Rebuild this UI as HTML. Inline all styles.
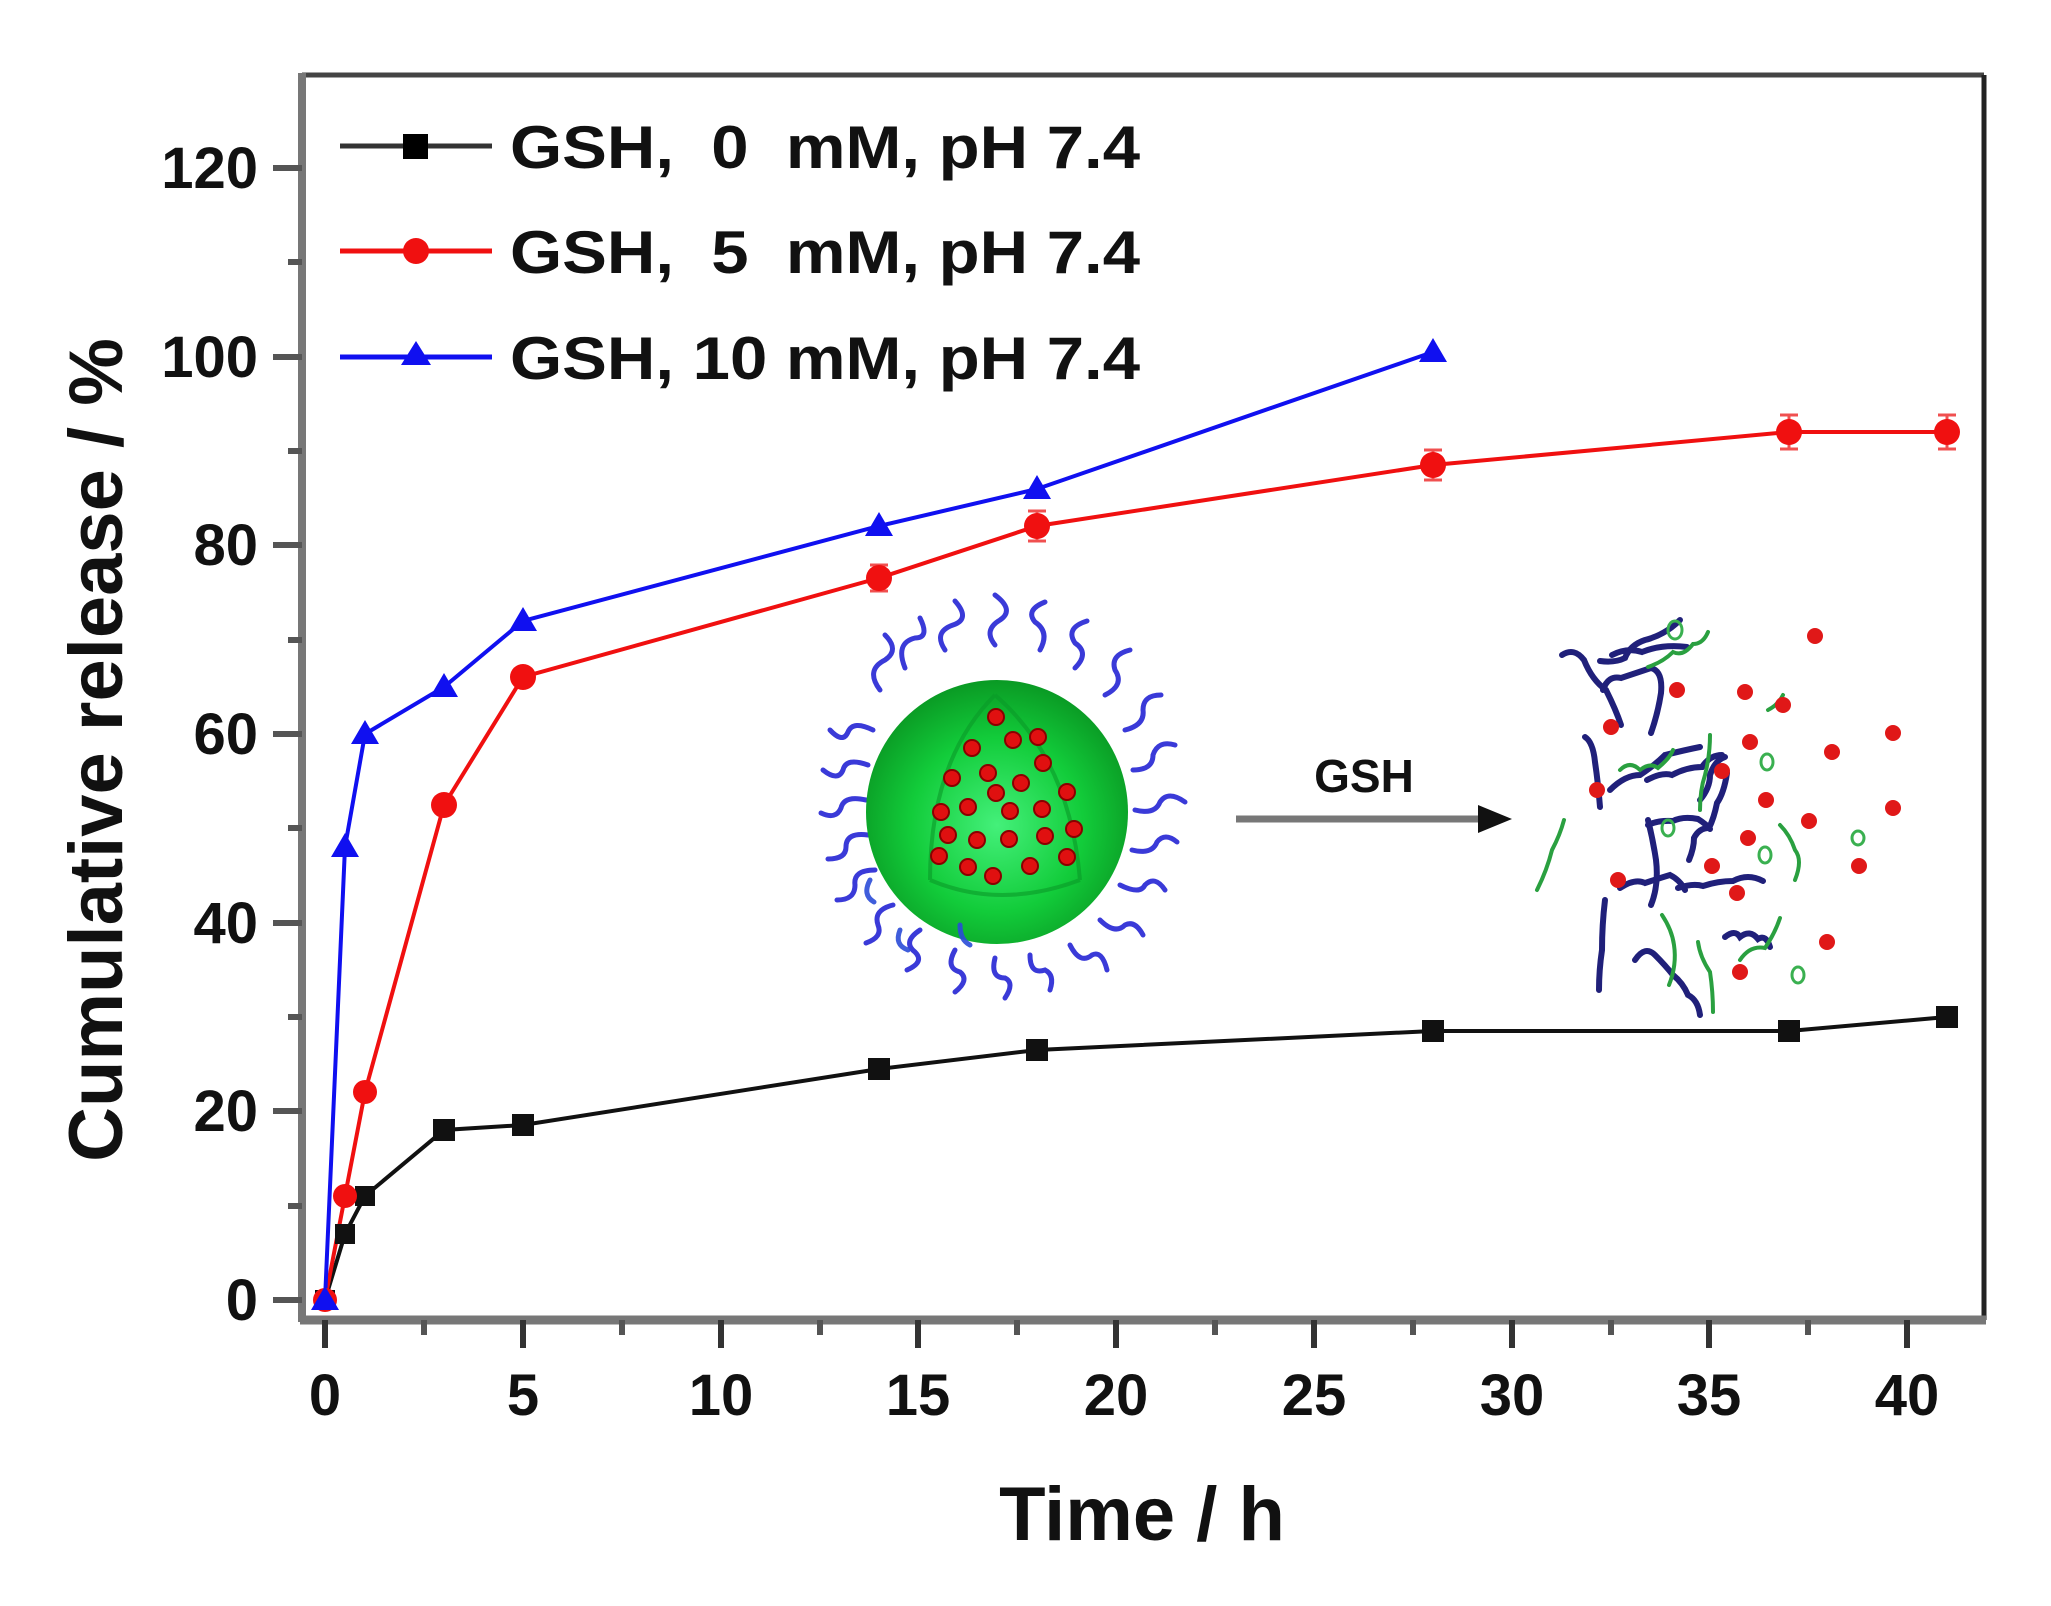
<!DOCTYPE html>
<html><head><meta charset="utf-8"><style>
html,body{margin:0;padding:0;background:#fff;}
svg{display:block;}
text{font-family:"Liberation Sans",Arial,sans-serif;font-weight:bold;fill:#111;}
</style></head><body>
<svg width="2051" height="1606" viewBox="0 0 2051 1606" xmlns="http://www.w3.org/2000/svg">
<rect width="2051" height="1606" fill="#fff"/>
<!-- axes frame -->
<line x1="302" y1="75" x2="1984" y2="75" stroke="#444" stroke-width="5"/>
<line x1="1984" y1="75" x2="1984" y2="1320" stroke="#222" stroke-width="5"/>
<line x1="302" y1="73" x2="302" y2="1322" stroke="#777" stroke-width="8"/>
<line x1="300" y1="1320" x2="1986" y2="1320" stroke="#777" stroke-width="9"/>
<!-- y ticks -->
<g stroke="#555" stroke-width="6">
<line x1="273" y1="1300" x2="302" y2="1300"/><line x1="273" y1="1111" x2="302" y2="1111"/>
<line x1="273" y1="923" x2="302" y2="923"/><line x1="273" y1="734" x2="302" y2="734"/>
<line x1="273" y1="545" x2="302" y2="545"/><line x1="273" y1="357" x2="302" y2="357"/>
<line x1="273" y1="168" x2="302" y2="168"/>
<line x1="288" y1="1206" x2="302" y2="1206"/><line x1="288" y1="1017" x2="302" y2="1017"/>
<line x1="288" y1="828" x2="302" y2="828"/><line x1="288" y1="640" x2="302" y2="640"/>
<line x1="288" y1="451" x2="302" y2="451"/><line x1="288" y1="262" x2="302" y2="262"/>
</g>
<g font-size="58" text-anchor="end">
<text x="258" y="1320">0</text><text x="258" y="1131">20</text><text x="258" y="943">40</text>
<text x="258" y="754">60</text><text x="258" y="565">80</text><text x="258" y="377">100</text><text x="258" y="188">120</text>
</g>
<!-- x ticks -->
<g stroke="#333" stroke-width="6">
<line x1="325" y1="1320" x2="325" y2="1348"/><line x1="523" y1="1320" x2="523" y2="1348"/>
<line x1="721" y1="1320" x2="721" y2="1348"/><line x1="918" y1="1320" x2="918" y2="1348"/>
<line x1="1116" y1="1320" x2="1116" y2="1348"/><line x1="1314" y1="1320" x2="1314" y2="1348"/>
<line x1="1512" y1="1320" x2="1512" y2="1348"/><line x1="1709" y1="1320" x2="1709" y2="1348"/>
<line x1="1907" y1="1320" x2="1907" y2="1348"/>
</g>
<g stroke="#555" stroke-width="6">
<line x1="424" y1="1320" x2="424" y2="1335"/><line x1="622" y1="1320" x2="622" y2="1335"/>
<line x1="820" y1="1320" x2="820" y2="1335"/><line x1="1017" y1="1320" x2="1017" y2="1335"/>
<line x1="1215" y1="1320" x2="1215" y2="1335"/><line x1="1413" y1="1320" x2="1413" y2="1335"/>
<line x1="1611" y1="1320" x2="1611" y2="1335"/><line x1="1808" y1="1320" x2="1808" y2="1335"/>
</g>
<g font-size="58" text-anchor="middle">
<text x="325" y="1415">0</text><text x="523" y="1415">5</text><text x="721" y="1415">10</text>
<text x="918" y="1415">15</text><text x="1116" y="1415">20</text><text x="1314" y="1415">25</text>
<text x="1512" y="1415">30</text><text x="1709" y="1415">35</text><text x="1907" y="1415">40</text>
</g>
<text x="1142" y="1540" font-size="76" text-anchor="middle">Time / h</text>
<text transform="translate(122,750) rotate(-90)" font-size="76" text-anchor="middle">Cumulative release / %</text>

<!-- illustration: sphere -->
<defs>
<radialGradient id="g1" cx="0.5" cy="0.55" r="0.55">
<stop offset="0" stop-color="#44f07a"/><stop offset="0.6" stop-color="#12cc3a"/><stop offset="1" stop-color="#0a9a24"/>
</radialGradient>
</defs>
<g fill="none" stroke="#3a3ad8" stroke-width="5" stroke-linecap="round">
<path d="M880 690 q-15 -20 5 -30 q15 -10 0 -25"/><path d="M905 668 q-10 -25 10 -30 q15 0 5 -20"/>
<path d="M945 650 q-12 -18 8 -25 q18 -6 2 -24"/><path d="M995 645 q-12 -15 5 -25 q15 -10 -5 -25"/>
<path d="M1040 650 q10 -18 -5 -28 q-10 -12 10 -20"/><path d="M1075 668 q15 -15 0 -25 q-10 -15 12 -22"/>
<path d="M1105 695 q20 -10 10 -25 q-5 -15 15 -20"/><path d="M1125 730 q20 -5 18 -20 q0 -15 18 -15"/>
<path d="M1133 770 q20 0 20 -15 q5 -15 22 -10"/><path d="M1135 810 q20 5 25 -8 q8 -12 25 0"/>
<path d="M1132 850 q20 5 25 -8 q8 -10 20 0"/><path d="M1120 885 q20 10 25 0 q10 -10 20 5"/>
<path d="M1100 920 q15 15 25 5 q10 -5 18 10"/><path d="M1070 945 q10 20 22 10 q10 -5 15 15"/>
<path d="M1030 955 q0 20 15 15 q10 5 5 20"/><path d="M995 958 q-5 20 10 20 q10 5 0 20"/>
<path d="M955 950 q-10 18 5 22 q10 8 -5 20"/><path d="M920 930 q-18 12 -5 22 q10 10 -8 18"/>
<path d="M893 905 q-20 5 -15 20 q5 12 -12 18"/><path d="M875 870 q-22 0 -20 15 q0 15 -18 15"/>
<path d="M868 835 q-22 -3 -22 12 q0 12 -18 12"/><path d="M866 800 q-22 -5 -25 8 q-5 12 -20 5"/>
<path d="M868 765 q-22 -8 -25 5 q-5 12 -20 0"/><path d="M873 730 q-20 -10 -25 2 q-5 12 -18 -2"/>
</g>
<ellipse cx="997" cy="812" rx="131" ry="132" fill="url(#g1)"/>
<path d="M995 695 Q930 760 930 880 M995 695 Q1070 760 1080 880 M930 880 Q1000 910 1080 880" fill="none" stroke="#0a9a28" stroke-width="4" opacity="0.6"/>
<g fill="#e01010" stroke="#8a0000" stroke-width="2">
<circle cx="996" cy="717" r="8"/><circle cx="1013" cy="740" r="8"/><circle cx="1038" cy="737" r="8"/>
<circle cx="972" cy="748" r="8"/><circle cx="1043" cy="763" r="8"/><circle cx="952" cy="778" r="8"/>
<circle cx="988" cy="773" r="8"/><circle cx="1021" cy="783" r="8"/><circle cx="996" cy="793" r="8"/>
<circle cx="1067" cy="792" r="8"/><circle cx="941" cy="812" r="8"/><circle cx="968" cy="807" r="8"/>
<circle cx="1010" cy="811" r="8"/><circle cx="1042" cy="809" r="8"/><circle cx="1074" cy="829" r="8"/>
<circle cx="948" cy="835" r="8"/><circle cx="977" cy="840" r="8"/><circle cx="1009" cy="839" r="8"/>
<circle cx="1045" cy="836" r="8"/><circle cx="939" cy="856" r="8"/><circle cx="968" cy="867" r="8"/>
<circle cx="993" cy="876" r="8"/><circle cx="1030" cy="866" r="8"/><circle cx="1067" cy="857" r="8"/>
</g>
<g fill="none" stroke="#2b4cd8" stroke-width="5" stroke-linecap="round" opacity="0.9">
<path d="M870 880 q-8 15 4 22"/><path d="M900 930 q-6 15 8 20"/><path d="M960 925 q0 15 10 20"/>
</g>
<!-- arrow -->
<line x1="1236" y1="819" x2="1480" y2="819" stroke="#777" stroke-width="7"/>
<polygon points="1478,805 1512,819 1478,833" fill="#111"/>
<text x="1364" y="792" font-size="46" text-anchor="middle">GSH</text>
<!-- debris -->
<g fill="none" stroke="#20207a" stroke-width="6" stroke-linecap="round">
<path d="M1680 620 q-15 15 -35 20 q-15 5 -20 18 q-10 5 -25 3"/>
<path d="M1612 655 q15 -8 30 -3 q20 -8 45 -5"/>
<path d="M1562 655 q12 -8 22 5 q8 20 22 30 q10 20 15 35"/>
<path d="M1603 690 q5 -15 18 -12 q15 -5 30 -10 q12 3 10 25 q-3 20 -10 40"/>
<path d="M1585 737 q8 5 10 25 q3 20 5 45"/>
<path d="M1610 790 q15 -15 30 -15 q15 -10 25 -20 q20 -5 35 -8"/>
<path d="M1647 780 q15 -8 25 -5 q15 -8 30 -8 q8 -12 20 -12"/>
<path d="M1700 800 q10 -12 10 -25 q5 -15 15 -18"/>
<path d="M1727 773 q-3 20 -10 30 q-3 15 -8 25 q-10 0 -15 10 q0 10 -5 22"/>
<path d="M1648 825 q10 -5 25 -4 q10 -5 25 -2 q8 5 12 10"/>
<path d="M1620 888 q15 -10 25 -5 q15 -5 25 -8 q10 5 15 15"/>
<path d="M1678 888 q15 -5 25 -2 q15 -5 30 -5 q15 -8 30 0"/>
<path d="M1648 820 q5 20 8 40 q3 25 -5 45"/>
<path d="M1605 900 q-3 25 -3 50 q-3 20 -3 40"/>
<path d="M1635 960 q10 -15 20 -5 q10 10 18 20 q10 8 15 20 q10 5 12 20"/>
<path d="M1725 937 q10 -8 15 0 q10 -8 18 2 q8 -5 12 8"/>
</g>
<g fill="none" stroke="#2aa040" stroke-width="4" stroke-linecap="round">
<path d="M1648 667 q15 -5 25 -15 q10 5 20 -8 q10 0 15 -12"/>
<path d="M1620 770 q10 -10 20 0 q10 -8 18 -2 q12 -10 15 -18"/>
<path d="M1700 810 q0 -20 5 -35 q5 -20 5 -40"/>
<path d="M1537 890 q10 -20 15 -40 q8 -15 12 -30"/>
<path d="M1662 915 q10 15 12 30 q3 20 -5 40"/>
<path d="M1713 1012 q0 -20 -3 -40 q-10 -15 -12 -30"/>
<path d="M1740 960 q10 -15 25 -12 q10 -15 15 -30"/>
<path d="M1780 825 q10 10 15 25 q8 10 0 30"/>
<path d="M1768 710 q10 -5 15 -15"/>
</g>
<g fill="none" stroke="#3ab050" stroke-width="3">
<ellipse cx="1675" cy="630" rx="7" ry="9"/><ellipse cx="1767" cy="762" rx="6" ry="8"/>
<ellipse cx="1668" cy="828" rx="6" ry="8"/><ellipse cx="1765" cy="855" rx="6" ry="8"/>
<ellipse cx="1858" cy="838" rx="6" ry="7"/>
<ellipse cx="1798" cy="975" rx="6" ry="8"/>
</g>
<g fill="#e01818">
<circle cx="1815" cy="636" r="8"/><circle cx="1677" cy="690" r="8"/><circle cx="1745" cy="692" r="8"/>
<circle cx="1783" cy="705" r="8"/><circle cx="1611" cy="727" r="8"/><circle cx="1832" cy="752" r="8"/>
<circle cx="1750" cy="742" r="8"/><circle cx="1722" cy="771" r="8"/><circle cx="1893" cy="733" r="8"/>
<circle cx="1597" cy="790" r="8"/><circle cx="1766" cy="800" r="8"/><circle cx="1893" cy="808" r="8"/>
<circle cx="1809" cy="821" r="8"/><circle cx="1748" cy="838" r="8"/><circle cx="1712" cy="866" r="8"/>
<circle cx="1859" cy="866" r="8"/><circle cx="1618" cy="880" r="8"/><circle cx="1737" cy="893" r="8"/>
<circle cx="1827" cy="942" r="8"/><circle cx="1740" cy="972" r="8"/>
</g>

<!-- series lines -->
<polyline fill="none" stroke="#111" stroke-width="4" points="325,1300 345,1234 365,1196 444,1130 523,1125 879,1069 1037,1050 1433,1031 1789,1031 1947,1017"/>
<polyline fill="none" stroke="#f01010" stroke-width="4" points="325,1300 345,1196 365,1092 444,805 523,677 879,578 1037,526 1433,465 1789,432 1947,432"/>
<polyline fill="none" stroke="#1010f0" stroke-width="4" points="325,1300 345,847 365,734 444,687 523,621 879,526 1037,489 1433,352"/>
<!-- error bars red -->
<g stroke="#f05050" stroke-width="3">
<line x1="879" y1="565" x2="879" y2="591"/><line x1="870" y1="565" x2="888" y2="565"/><line x1="870" y1="591" x2="888" y2="591"/>
<line x1="1037" y1="511" x2="1037" y2="541"/><line x1="1028" y1="511" x2="1046" y2="511"/><line x1="1028" y1="541" x2="1046" y2="541"/>
<line x1="1433" y1="450" x2="1433" y2="480"/><line x1="1424" y1="450" x2="1442" y2="450"/><line x1="1424" y1="480" x2="1442" y2="480"/>
<line x1="1789" y1="415" x2="1789" y2="449"/><line x1="1780" y1="415" x2="1798" y2="415"/><line x1="1780" y1="449" x2="1798" y2="449"/>
<line x1="1947" y1="415" x2="1947" y2="449"/><line x1="1938" y1="415" x2="1956" y2="415"/><line x1="1938" y1="449" x2="1956" y2="449"/>
</g>
<!-- black squares -->
<g fill="#111">
<rect x="315" y="1290" width="20" height="20"/><rect x="335" y="1224" width="20" height="20"/><rect x="355" y="1186" width="20" height="20"/>
<rect x="433" y="1119" width="22" height="22"/><rect x="512" y="1114" width="22" height="22"/><rect x="868" y="1058" width="22" height="22"/>
<rect x="1026" y="1039" width="22" height="22"/><rect x="1422" y="1020" width="22" height="22"/><rect x="1778" y="1020" width="22" height="22"/>
<rect x="1936" y="1006" width="22" height="22"/>
</g>
<!-- red circles -->
<g fill="#f01010">
<circle cx="325" cy="1300" r="12"/><circle cx="345" cy="1196" r="12"/><circle cx="365" cy="1092" r="12"/>
<circle cx="444" cy="805" r="13"/><circle cx="523" cy="677" r="13"/><circle cx="879" cy="578" r="13"/>
<circle cx="1037" cy="526" r="13"/><circle cx="1433" cy="465" r="13"/><circle cx="1789" cy="432" r="13"/>
<circle cx="1947" cy="432" r="13"/>
</g>
<!-- blue triangles -->
<g fill="#1010f0">
<polygon points="325,1286 339,1310 311,1310"/><polygon points="345,833 359,857 331,857"/>
<polygon points="365,720 379,744 351,744"/><polygon points="444,673 458,697 430,697"/>
<polygon points="523,607 537,631 509,631"/><polygon points="879,512 893,536 865,536"/>
<polygon points="1037,475 1051,499 1023,499"/><polygon points="1433,338 1447,362 1419,362"/>
</g>

<!-- legend -->
<line x1="340" y1="146" x2="492" y2="146" stroke="#333" stroke-width="5"/>
<rect x="403" y="134" width="25" height="25" fill="#000"/>
<line x1="340" y1="251" x2="492" y2="251" stroke="#f01010" stroke-width="5"/>
<circle cx="416" cy="251" r="13" fill="#f01010"/>
<line x1="340" y1="357" x2="492" y2="357" stroke="#1010f0" stroke-width="5"/>
<polygon points="416,341 431,365 401,365" fill="#1010f0"/>
<g font-size="60">
<text x="510" y="168" textLength="630" lengthAdjust="spacingAndGlyphs" xml:space="preserve">GSH,  0  mM, pH 7.4</text>
<text x="510" y="273" textLength="630" lengthAdjust="spacingAndGlyphs" xml:space="preserve">GSH,  5  mM, pH 7.4</text>
<text x="510" y="379" textLength="630" lengthAdjust="spacingAndGlyphs">GSH, 10 mM, pH 7.4</text>
</g>
</svg>
</body></html>
